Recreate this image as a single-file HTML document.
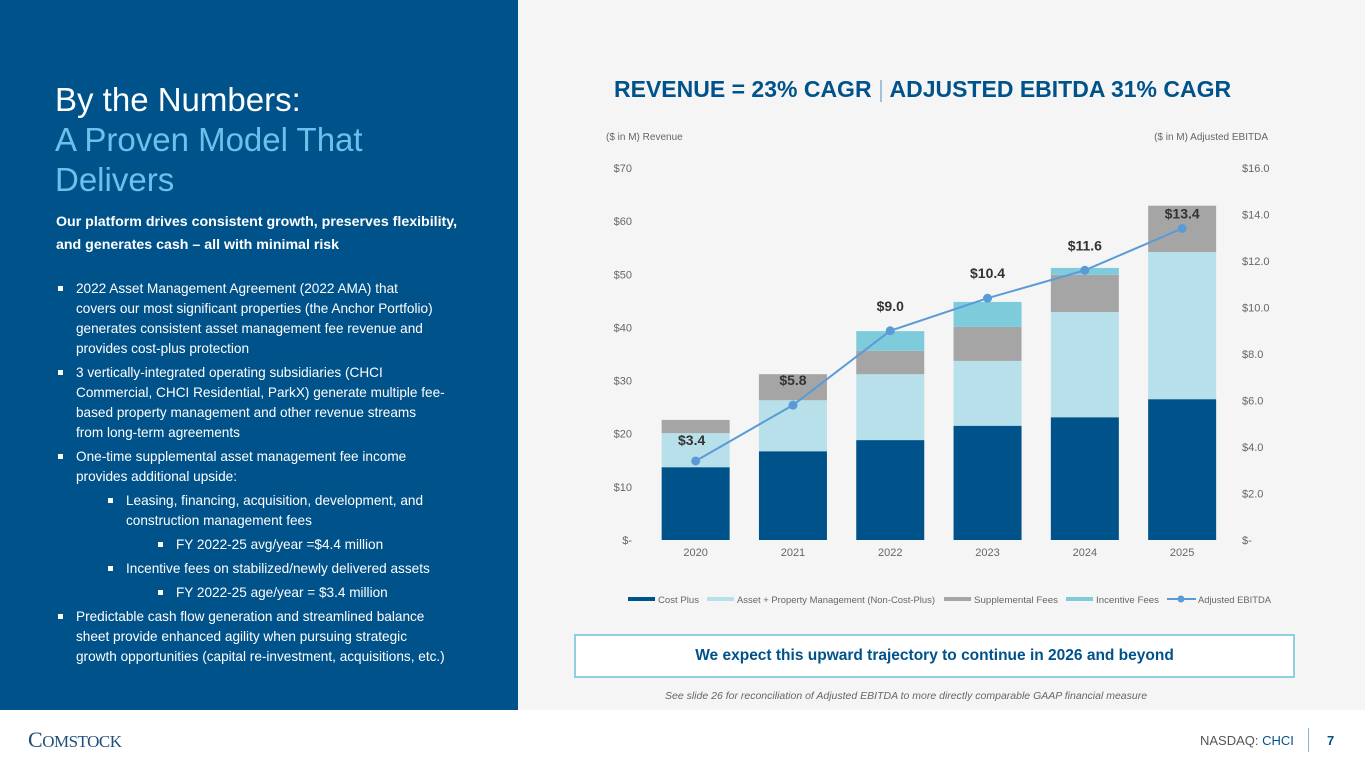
<!DOCTYPE html>
<html><head><meta charset="utf-8">
<style>
*{margin:0;padding:0;box-sizing:border-box}
body{width:1365px;height:768px;position:relative;overflow:hidden;background:#fff;font-family:"Liberation Sans",sans-serif}
#left{position:absolute;left:0;top:0;width:518px;height:710px;background:#00528a;color:#fff}
#right{position:absolute;left:518px;top:0;width:847px;height:710px;background:#f5f5f5}
.t{position:absolute;white-space:nowrap}
h1{position:absolute;left:55px;top:80px;font-weight:300;font-size:33px;line-height:40px;color:#fff}
h1 span{color:#6cc0ec}
.sub{position:absolute;left:56px;top:211px;font-size:14.2px;line-height:23px;font-weight:bold;color:#fff}
ul{position:absolute;left:56px;top:279px;list-style:none;font-size:13.6px;line-height:20px;color:#fff;width:460px;white-space:nowrap}
ul li{position:relative;padding-left:20px;margin-bottom:4px}
ul li:before{content:"";position:absolute;left:2px;top:7px;width:5px;height:5px;background:#fff}
ul li.l2{padding-left:70px}ul li.l2:before{left:52px}
ul li.l3{padding-left:120px;margin-bottom:4px}ul li.l3:before{left:102px}
</style></head><body>
<div id="left">
<h1>By the Numbers:<br><span>A Proven Model That<br>Delivers</span></h1>
<div class="sub">Our platform drives consistent growth, preserves flexibility,<br>and generates cash – all with minimal risk</div>
<ul>
<li>2022 Asset Management Agreement (2022 AMA) that<br>covers our most significant properties (the Anchor Portfolio)<br>generates consistent asset management fee revenue and<br>provides cost-plus protection</li>
<li>3 vertically-integrated operating subsidiaries (CHCI<br>Commercial, CHCI Residential, ParkX) generate multiple fee-<br>based property management and other revenue streams<br>from long-term agreements</li>
<li>One-time supplemental asset management fee income<br>provides additional upside:</li>
<li class="l2">Leasing, financing, acquisition, development, and<br>construction management fees</li>
<li class="l3">FY 2022-25 avg/year =$4.4 million</li>
<li class="l2">Incentive fees on stabilized/newly delivered assets</li>
<li class="l3">FY 2022-25 age/year = $3.4 million</li>
<li>Predictable cash flow generation and streamlined balance<br>sheet provide enhanced agility when pursuing strategic<br>growth opportunities (capital re-investment, acquisitions, etc.)</li>
</ul>
</div>
<div id="right"></div>
<div class="t" style="left:614px;top:76px;font-size:23px;font-weight:bold;color:#00528a">REVENUE = 23% CAGR <span style="color:#9bbfd8;font-weight:normal">|</span> ADJUSTED EBITDA 31% CAGR</div>
<svg id="chart" width="1365" height="620" style="position:absolute;left:0;top:0"></svg>
<div style="position:absolute;left:574px;top:634px;width:721px;height:44px;border:2px solid #8fd0e0;background:#fff;color:#00528a;font-weight:bold;font-size:15.5px;text-align:center;line-height:40px">We expect this upward trajectory to continue in 2026 and beyond</div>
<div class="t" style="left:665px;top:690px;font-size:10.5px;font-style:italic;color:#666">See slide 26 for reconciliation of Adjusted EBITDA to more directly comparable GAAP financial measure</div>
<div class="t" style="left:28px;top:727px;font-family:'Liberation Serif',serif;font-size:22px;color:#1f4e79;letter-spacing:-0.5px">C<span style="font-size:17px">OMSTOCK</span></div>
<div class="t" style="left:1200px;top:733px;font-size:13px;color:#555">NASDAQ: <b style="color:#00528a;font-weight:normal">CHCI</b></div>
<div style="position:absolute;left:1308px;top:728px;width:1px;height:24px;background:#8fb3cf"></div>
<div class="t" style="left:1327px;top:733px;font-size:13px;font-weight:bold;color:#00528a">7</div>
<script>
const years=["2020","2021","2022","2023","2024","2025"];
const costPlus=[13.7,16.7,18.8,21.5,23.1,26.5];
const assetMgmt=[6.4,9.6,12.4,12.2,19.8,27.7];
const supplemental=[2.5,4.9,4.4,6.4,7.0,8.7];
const incentive=[0,0,3.7,4.7,1.3,0];
const ebitda=[3.4,5.8,9.0,10.4,11.6,13.4];
const leftTicks=[0,10,20,30,40,50,60,70];
const rightTicks=[0,2,4,6,8,10,12,14,16];
const svg=document.getElementById('chart');const NS="http://www.w3.org/2000/svg";
const y0=540,y1=168,x0=647,band=97.3,bw=68;
const yL=v=>y0-(v/70)*(y0-y1);
const yR=v=>y0-(v/16)*(y0-y1);
const xc=i=>x0+band*(i+0.5);
function mk(tag,a,txt){const e=document.createElementNS(NS,tag);for(const k in a)e.setAttribute(k,a[k]);if(txt!==undefined)e.textContent=txt;svg.appendChild(e);return e;}
let e;
leftTicks.forEach(v=>{e=mk('text',{x:632,y:yL(v)+4,'text-anchor':'end','font-size':11,fill:'#666'},v?'$'+v:'$-');

});
rightTicks.forEach(v=>{e=mk('text',{x:1242,y:yR(v)+4,'font-size':11,fill:'#666'},v?'$'+v.toFixed(1):'$-');

});
e=mk('text',{x:606,y:140,'font-size':10,fill:'#666'},'($ in M) Revenue');


e=mk('text',{x:1268,y:140,'font-size':10,fill:'#666','text-anchor':'end'},'($ in M) Adjusted EBITDA');


const series=[[costPlus,'#00528a'],[assetMgmt,'#b7e0ea'],[supplemental,'#a5a5a5'],[incentive,'#7ecbdc']];
years.forEach((yr,i)=>{let base=0;
series.forEach(([arr,c])=>{const v=arr[i];if(v>0){e=mk('rect',{x:xc(i)-bw/2,y:yL(base+v),width:bw,height:yL(base)-yL(base+v),fill:c});

}base+=v;});
e=mk('text',{x:xc(i),y:556,'text-anchor':'middle','font-size':11,fill:'#666'},yr);

});
e=mk('polyline',{points:ebitda.map((v,i)=>xc(i)+','+yR(v)).join(' '),fill:'none',stroke:'#5b9bd5','stroke-width':2});


ebitda.forEach((v,i)=>{e=mk('circle',{cx:xc(i),cy:yR(v),r:4.5,fill:'#5b9bd5'});


e=mk('text',{x:xc(i)-(i==0?4:0),y:yR(v)-(i==5?10:i==0?16:20),'text-anchor':'middle','font-size':14,'font-weight':'bold',fill:'#333'},'$'+v.toFixed(1));

});
const leg=[['Cost Plus','#00528a',628,30,41],['Asset + Property Management (Non-Cost-Plus)','#b7e0ea',707,30,198],['Supplemental Fees','#a5a5a5',944,30,84],['Incentive Fees','#7ecbdc',1066,30,63],['Adjusted EBITDA','#5b9bd5',1167,31,73]];
leg.forEach(([n,c,x,off,tl],k)=>{
if(k==4){e=mk('line',{x1:x,y1:599,x2:x+29,y2:599,stroke:c,'stroke-width':2});mk('circle',{cx:x+14,cy:599,r:3.5,fill:c});}
else e=mk('rect',{x:x,y:597,width:27,height:4,fill:c});


e=mk('text',{x:x+off,y:603,'font-size':9.5,fill:'#666',textLength:tl,lengthAdjust:'spacingAndGlyphs'},n);

});
</script>
</body></html>
